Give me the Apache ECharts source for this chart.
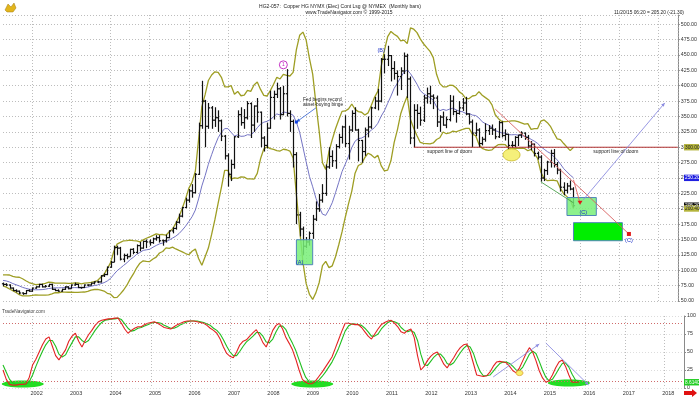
<!DOCTYPE html>
<html><head><meta charset="utf-8">
<script src="https://cdn.jsdelivr.net/npm/echarts@6/dist/echarts.min.js"></script>
<style>html,body{margin:0;padding:0;background:#fff}#c{width:700px;height:397px}</style>
</head><body><div id="c"></div>
<script>
// ---- categories: months from Apr 2001 to Jul 2018 ----
const firstYear = 2001, firstMonth = 4, monthCount = 208;
const months = [];
for (let k = 0; k < monthCount; k++) {
  const m = firstMonth - 1 + k;
  months.push((firstYear + Math.floor(m / 12)) + '-' + String(m % 12 + 1).padStart(2, '0'));
}
// ---- monthly OHLC, cents/lb (Apr 2001 .. Nov 2015) ----
const opens = [
 78,77,76,71,67,66,63,62,67,
 66,71,73,77,73,74,77,69,67,66,69,73,
 70,76,77,72,72,76,76,79,81,81,91,93,
 105,113,137,136,118,124,122,134,129,140,136,147,
 146,145,151,153,148,148,153,164,168,178,188,202,
 214,229,226,256,335,375,334,364,344,348,343,318,
 286,256,272,317,353,340,348,371,336,367,357,315,
 303,331,381,386,395,353,387,355,342,288,190,167,
 139,146,160,183,200,214,225,268,285,278,301,316,
 333,306,328,355,328,311,293,328,333,364,375,375,
 443,443,449,428,420,415,424,448,411,315,360,355,
 344,380,387,383,380,341,349,336,345,375,358,355,
 364,372,354,341,323,328,306,313,327,331,328,317,
 340,319,321,303,303,316,320,323,316,302,305,290,
 284,250,262,276,290,272,263,235,230,237,232];
const highs = [
 80,79,77,72,69,67,64,68,69,
 72,74,78,78,76,78,78,70,69,70,74,74,
 77,80,78,73,77,77,80,82,83,92,95,106,
 115,140,140,138,127,127,135,136,142,146,148,150,
 150,153,157,157,150,158,165,170,180,192,203,218,
 232,240,258,340,408,377,372,367,365,360,345,320,
 290,280,318,360,365,362,375,373,368,380,358,318,
 340,392,392,405,398,400,427,360,345,292,195,171,
 154,163,190,212,224,240,272,300,295,305,322,335,
 352,335,360,365,330,312,332,350,366,382,395,445,
 451,465,450,440,425,430,454,452,415,370,370,366,
 385,397,400,386,384,352,358,350,385,384,360,375,
 380,382,355,345,340,331,317,339,336,337,331,343,
 342,329,322,310,318,320,326,324,320,310,306,293,
 287,265,278,296,297,276,265,243,242,246,235];
const lows = [
 74,74,70,66,64,61,60,61,65,
 65,70,72,72,72,73,68,66,65,65,68,69,
 70,75,71,70,71,74,75,77,79,80,89,92,
 104,113,125,116,113,118,122,126,127,131,135,136,
 140,143,148,145,140,145,152,160,166,176,186,201,
 210,218,225,255,330,300,330,330,333,325,310,280,
 236,245,265,315,335,330,345,315,325,340,300,293,
 298,330,345,380,345,352,350,325,267,175,155,125,
 136,140,151,180,195,210,221,265,268,265,298,306,
 300,280,325,327,277,275,286,316,330,362,360,373,
 420,432,407,410,384,393,419,380,305,300,330,335,
 341,371,370,362,333,325,335,331,342,352,340,353,
 359,352,337,300,318,300,303,309,320,320,313,315,
 316,311,290,299,300,302,315,312,298,295,285,280,
 244,245,255,267,267,256,228,222,225,230,202];
const closes = [
 77,76,71,67,66,63,62,67,66,
 71,73,77,73,74,77,69,67,66,69,73,70,
 76,77,72,72,76,76,79,81,81,91,93,105,
 113,137,136,118,124,122,134,129,140,136,147,146,
 145,151,153,148,148,153,164,168,178,188,202,214,
 229,226,256,335,375,334,364,344,348,343,318,286,
 256,272,317,353,340,348,371,336,367,357,315,303,
 331,381,386,395,353,387,355,342,288,190,167,139,
 146,160,183,200,214,225,268,285,278,301,316,333,
 306,328,355,328,311,293,328,333,364,375,375,443,
 443,449,428,420,415,424,448,411,315,360,355,344,
 380,387,383,380,341,349,336,345,375,358,355,364,
 372,354,341,323,328,306,313,327,331,328,317,340,
 319,321,303,303,316,320,323,316,302,305,290,284,
 250,262,276,290,272,263,235,230,237,232,205];
// ---- overlay lines (Bollinger upper / lower, middle average) ----
const bandUpper = [
 92.5,92.6,92.3,89.9,88.9,88.6,86.2,82.9,80,
 78.2,76.6,77.1,77.6,78.8,80.7,80.1,79.1,79.2,78.9,79.2,78.8,
 78.5,79.6,79.3,77.9,79,79.6,80.2,81.7,83.2,88.5,93.4,102.7,
 112.4,130.8,142.6,145.2,147.9,148.3,149.1,148.2,147.6,146.3,149.3,152,
 154.1,156.6,159.2,157.8,158.1,157,162.7,167,176.2,187,200.7,216,
 233.2,243.2,261,312.8,366.1,385.5,408.5,417.5,422.7,421.8,413.7,398.1,
 398.1,400,386.2,390.7,383.7,384.7,392.4,390.9,401.2,405.9,394,384.3,
 383.3,392.1,402.5,413.8,411,418.3,416.7,415.8,421.7,458.6,482,487.2,
 474.2,444.5,418.9,370.4,325.7,274.8,264,293.1,312.4,330,344.6,358.3,
 359,362.4,370.3,361.8,357.9,356.9,352.5,355.9,368.3,381.5,391.2,430.9,
 457.1,480,488.3,483.8,480.3,472.8,474.2,468.4,494.2,491.9,486.3,476.2,
 468.2,461.9,455.9,445.7,418.6,403.4,398.3,398,400.8,400.6,396.7,390,
 386.1,379.1,379.1,383.3,384.3,390.4,384.6,380.7,376.9,368.9,352.8,346.4,
 341.8,341.6,342.1,342.8,342.7,341.6,339.6,337.6,338.3,329,330.3,330.4,
 342.5,344.4,340,333.4,323.1,313.6,312.3,306,300.1,294.5,300];
const bandLower = [
 74.5,72.6,69.5,66.9,63.9,60.4,58.2,58.3,58.4,
 59,59.8,59.5,59.4,59.6,59.9,61.7,63.7,63.4,64.3,64.4,64.2,
 64.3,64,63.9,64.3,64.6,65.8,67.8,68.7,68.8,67.7,66.2,62.5,
 61,55.6,55.8,61.6,67.9,75.7,85.5,94,104,111.5,115.3,114.4,
 114.1,118.2,121.4,128,130.5,136.4,135.5,137.6,134.6,132.2,129.9,127.2,
 125.2,130.8,134.6,119.2,108.1,121.9,136.1,158.3,182.3,209,234.9,262.5,
 262.5,248,250.2,249.5,251.7,251.5,248.4,248.5,248,257.5,281.2,297.1,
 300.9,297.7,296.5,294.6,293.8,296.7,295.9,293.8,282.5,223,166.8,113.2,
 78.2,60.9,52.5,63.6,80.1,107.6,114.4,104.3,107.2,122,141.4,162.3,
 186.2,208.4,228.7,257.8,270.3,272.9,283.3,290.3,287.5,282.7,286.8,270.1,
 261.5,262.8,277.9,307.8,328.7,354.4,369.8,382.8,345,330.7,318.7,307.8,
 306.2,305.9,305.5,306.9,312.6,315.4,324.7,322,323.2,326.2,325.1,327.2,
 328.9,330.7,330.7,321.3,318.7,304.8,298.2,295.9,294.9,295.7,300.8,304.4,
 304.6,304.4,298.9,297.6,298.3,298,298.4,298,294.3,296.6,289.5,282,
 259.3,249.2,245.6,246.2,246.3,245.2,233.1,224.4,219.7,214.9,200.4];
const movingAvg = [
 83.5,82.6,80.9,78.4,76.4,74.5,72.2,70.6,69.2,
 68.6,68.2,68.3,68.5,69.2,70.3,70.9,71.4,71.3,71.6,71.8,71.5,
 71.4,71.8,71.6,71.1,71.8,72.7,74,75.2,76,78.1,79.8,82.6,
 86.7,93.2,99.2,103.4,107.9,112,117.3,121.1,125.8,128.9,132.3,133.2,
 134.1,137.4,140.3,142.9,144.3,146.7,149.1,152.3,155.4,159.6,165.3,171.6,
 179.2,187,197.8,216,237.1,253.7,272.3,287.9,302.5,315.4,324.3,330.3,
 330.3,324,318.2,320.1,317.7,318.1,320.4,319.7,324.6,331.7,337.6,340.7,
 342.1,344.9,349.5,354.2,352.4,357.5,356.3,354.8,352.1,340.8,324.4,300.2,
 276.2,252.7,235.7,217,202.9,191.2,189.2,198.7,209.8,226,243,260.3,
 272.6,285.4,299.5,309.8,314.1,314.9,317.9,323.1,327.9,332.1,339,350.5,
 359.3,371.4,383.1,395.8,404.5,413.6,422,425.6,419.6,411.3,402.5,392,
 387.2,383.9,380.7,376.3,365.6,359.4,361.5,360,362,363.4,360.9,358.6,
 357.5,354.9,354.9,352.3,351.5,347.6,341.4,338.3,335.9,332.3,326.8,325.4,
 323.2,323,320.5,320.2,320.5,319.8,319,317.8,316.3,312.8,309.9,306.2,
 300.9,296.8,292.8,289.8,284.7,279.4,272.7,265.2,259.9,254.7,250.2];
// ---- stochastic %K (red) and %D (green) ----
const stochK = [
 25,12,5,4,4,5,5,6,15,
 32,40,50,60,68,71,58,45,39,46,53,65,
 72,76,65,57,66,74,80,87,92,94,95,96,
 96,97,97,90,82,76,80,83,85,85,88,90,
 91,92,90,87,84,83,82,85,88,90,92,93,
 93,93,92,91,90,87,83,80,76,68,57,48,
 44,42,50,60,65,67,72,77,81,73,63,57,
 68,80,87,90,82,70,62,53,40,25,12,8,
 6,6,10,16,22,29,36,43,55,67,79,90,
 90,89,88,88,84,78,72,68,75,82,88,91,
 93,94,90,85,78,76,80,82,70,45,25,30,
 38,44,48,50,42,33,28,35,42,50,56,60,
 61,50,34,18,17,16,17,22,30,36,37,36,
 35,30,24,21,28,38,48,56,50,38,24,14,
 8,10,18,28,36,39,30,18,8,8,8];
const stochD = [
 32,22,12,7,5,5,5,5,9,
 18,30,41,51,60,66,66,58,47,43,46,55,
 63,71,71,66,63,66,73,80,86,91,94,95,
 96,96,97,95,89,83,79,80,83,84,86,88,
 90,91,91,90,87,85,83,83,85,88,90,92,
 93,93,93,92,91,89,87,83,80,75,67,58,
 50,45,45,51,58,64,68,72,77,77,72,64,
 63,68,78,86,86,81,71,62,52,39,26,15,
 9,7,7,11,16,22,29,36,45,55,67,79,
 86,89,89,88,87,83,78,72,72,75,82,87,
 91,93,92,90,84,80,78,80,77,66,47,33,
 31,37,43,47,47,42,34,32,35,42,49,55,
 59,57,48,34,23,17,17,18,23,29,34,36,
 36,34,30,25,24,29,38,47,51,48,37,25,
 15,10,12,19,27,34,35,29,19,11,8];
const priceTicks = [500,475,450,425,400,375,350,325,300,275,250,225,200,175,150,125,100,75,50];
const stochTicks = [100,75,50,25,0];

const ohlc = closes.map((c, i) => [i, opens[i], highs[i], lows[i], c]);
const FONT = 'Liberation Sans, Arial, sans-serif';
const chart = echarts.init(document.getElementById('c'), null, {renderer: 'canvas'});
const janOnly = (idx, val) => String(val).endsWith('-01');
const gridDot = {color: '#bdbdbd', type: [1, 2], width: 1};

chart.setOption({
  animation: false,
  backgroundColor: '#ffffff',
  grid: [
    {left: 3, right: 16, top: 15, height: 286},
    {left: 3, right: 16, top: 316, height: 72}
  ],
  xAxis: [
    {gridIndex: 0, type: 'category', data: months, boundaryGap: false,
     axisLine: {show: false}, axisTick: {show: false}, axisLabel: {show: false},
     splitLine: {show: true, interval: janOnly, lineStyle: gridDot}},
    {gridIndex: 1, type: 'category', data: months, boundaryGap: false,
     axisLine: {show: false}, axisTick: {show: false},
     axisLabel: {show: true, interval: janOnly, formatter: v => v.slice(0, 4), fontSize: 5.5,
                 color: '#333', fontFamily: FONT, margin: 2, padding: [0, 0, 0, 8]},
     splitLine: {show: true, interval: janOnly, lineStyle: gridDot}}
  ],
  yAxis: [
    {gridIndex: 0, type: 'value', position: 'right', min: 50, max: 515, interval: 25,
     axisLine: {show: true, lineStyle: {color: '#8a8a8a'}},
     axisTick: {show: true, length: 2, lineStyle: {color: '#8a8a8a'}},
     minorTick: {show: true, splitNumber: 5, length: 1.2, lineStyle: {color: '#aaa'}},
     axisLabel: {fontSize: 5.3, color: '#333', fontFamily: FONT, margin: 3,
                 formatter: v => priceTicks.includes(v) ? v.toFixed(2) : ''},
     splitLine: {show: true, lineStyle: gridDot}},
    {gridIndex: 1, type: 'value', position: 'right', min: 0, max: 100, interval: 25,
     axisLine: {show: true, lineStyle: {color: '#8a8a8a'}},
     axisTick: {show: true, length: 2, lineStyle: {color: '#8a8a8a'}},
     axisLabel: {fontSize: 5.3, color: '#333', fontFamily: FONT, margin: 3,
                 formatter: v => stochTicks.includes(v) ? String(v) : ''},
     splitLine: {show: true, lineStyle: {color: '#dcdcdc', type: [1, 2]}}}
  ],
  series: [
    {type: 'line', xAxisIndex: 0, yAxisIndex: 0, data: bandUpper, symbol: 'none',
     lineStyle: {color: '#9e9e24', width: 1.3}, z: 3},
    {type: 'line', xAxisIndex: 0, yAxisIndex: 0, data: bandLower, symbol: 'none',
     lineStyle: {color: '#9e9e24', width: 1.3}, z: 3},
    {type: 'line', xAxisIndex: 0, yAxisIndex: 0, data: movingAvg, symbol: 'none',
     lineStyle: {color: '#7474c4', width: 1}, z: 3},
    {type: 'custom', xAxisIndex: 0, yAxisIndex: 0, data: ohlc, z: 4,
     encode: {x: 0, y: [1, 2, 3, 4]},
     renderItem: function (params, api) {
       const i = api.value(0);
       const ph = api.coord([i, api.value(2)]);
       const pl = api.coord([i, api.value(3)]);
       const po = api.coord([i, api.value(1)]);
       const pc = api.coord([i, api.value(4)]);
       const x = Math.round(ph[0]) + 0.5;
       const st = {stroke: '#111', lineWidth: 1.2};
       return {type: 'group', children: [
         {type: 'line', shape: {x1: x, y1: ph[1], x2: x, y2: pl[1]}, style: st},
         {type: 'line', shape: {x1: x - 1.6, y1: po[1], x2: x, y2: po[1]}, style: st},
         {type: 'line', shape: {x1: x, y1: pc[1], x2: x + 1.6, y2: pc[1]}, style: st}
       ]};
     }},
    {type: 'line', xAxisIndex: 1, yAxisIndex: 1, data: stochD, symbol: 'none',
     lineStyle: {color: '#1fbf1f', width: 1.1}, z: 3},
    {type: 'line', xAxisIndex: 1, yAxisIndex: 1, data: stochK, symbol: 'none',
     lineStyle: {color: '#e32222', width: 1.1}, z: 4,
     markLine: {silent: true, symbol: 'none', label: {show: false},
       lineStyle: {color: '#cf6a6a', type: [1, 2], width: 1},
       data: [{yAxis: 90}, {yAxis: 10}]}}
  ]
});

// ---- annotations, anchored in data space (month index, value) ----
const notes = {
  circle1: [86, 434], labelB: [116, 458],
  fedText: [91.8, 378], fedArrow: [[95.7, 364], [89.7, 341]],
  boxA: [[89.7, 149.6], [95.1, 109]], textA: [91.3, 112],
  support: [[126, 300], [207, 300]],
  supportTxt1: [137.4, 292.5], supportTxt2: [188, 292.5],
  yellowEll: [155.6, 287.6],
  redDiag: [[151, 362], [192, 159]],
  boxC1: [[172.9, 218.2], [182.1, 189]], textC1: [177.5, 194],
  boxC2: [[174.8, 177.4], [190, 148]], textC2: [191.5, 149], redSq: [192, 159],
  blueArrow: [[178.4, 214.5], [203.3, 372]],
  greenLine: [[165.3, 243.7], [175.4, 209.6]],
  pinkLine: [[174.5, 247], [177.2, 209.6]],
  lowEll: [[6.1, 5.6], [93.6, 5.6], [171.7, 6.9]],
  lowYellow: [156.5, 20.8],
  lowArrows: [[[148.9, 15.3], [163.2, 61.1]], [[164.7, 62.5], [178.1, 4.2]]]
};
const P = (d) => chart.convertToPixel({gridIndex: 0}, d);
const Q = (d) => chart.convertToPixel({gridIndex: 1}, d);
const g = [];
const txt = (x, y, s, o) => g.push(Object.assign({type: 'text', x: x, y: y, z: 20,
  style: Object.assign({text: s, fontSize: 5, fontFamily: FONT, fill: '#222', align: 'left', verticalAlign: 'middle'}, o || {})}));
function arrowLine(a, b, color, w) {
  g.push({type: 'line', z: 19, shape: {x1: a[0], y1: a[1], x2: b[0], y2: b[1]}, style: {stroke: color, lineWidth: w || 1}});
  const ang = Math.atan2(b[1] - a[1], b[0] - a[0]);
  const L = 4, s = 0.45;
  g.push({type: 'polygon', z: 19, shape: {points: [b,
    [b[0] - L * Math.cos(ang - s), b[1] - L * Math.sin(ang - s)],
    [b[0] - L * Math.cos(ang + s), b[1] - L * Math.sin(ang + s)]]}, style: {fill: color}});
}
function box(pair, fill, stroke) {
  const a = P(pair[0]), b = P(pair[1]);
  g.push({type: 'rect', z: 6, shape: {x: Math.min(a[0], b[0]), y: Math.min(a[1], b[1]),
    width: Math.abs(b[0] - a[0]), height: Math.abs(b[1] - a[1])},
    style: {fill: fill, stroke: stroke, lineWidth: 1}});
}
box(notes.boxA, 'rgba(120,238,120,0.85)', '#4f86b8');
box(notes.boxC1, 'rgba(120,238,120,0.85)', '#4f86b8');
box(notes.boxC2, '#00ee00', '#4f86b8');
(function () { const a = P(notes.support[0]), b = P(notes.support[1]);
  g.push({type: 'line', z: 7, shape: {x1: a[0], y1: a[1], x2: b[0], y2: b[1]}, style: {stroke: '#b03030', lineWidth: 1}}); })();
(function () { let p = P(notes.supportTxt1); txt(p[0], p[1], 'support line of doom', {align: 'center'});
  p = P(notes.supportTxt2); txt(p[0], p[1], 'support line of doom', {align: 'center'}); })();
(function () { const p = P(notes.yellowEll);
  g.push({type: 'ellipse', z: 8, shape: {cx: p[0], cy: p[1], rx: 8.5, ry: 6}, style: {fill: '#f5f07a', stroke: '#c8b820', lineWidth: 0.8}}); })();
(function () {
  let a = P(notes.redDiag[0]), b = P(notes.redDiag[1]);
  g.push({type: 'line', z: 9, shape: {x1: a[0], y1: a[1], x2: b[0], y2: b[1]}, style: {stroke: '#d86060', lineWidth: 0.9}});
  const s = P(notes.redSq);
  g.push({type: 'rect', z: 21, shape: {x: s[0] - 2, y: s[1] - 2, width: 4, height: 4}, style: {fill: '#e01818'}});
  a = P(notes.greenLine[0]); b = P(notes.greenLine[1]);
  g.push({type: 'line', z: 9, shape: {x1: a[0], y1: a[1], x2: b[0], y2: b[1]}, style: {stroke: '#4aa04a', lineWidth: 0.9}});
  a = P(notes.pinkLine[0]); b = P(notes.pinkLine[1]);
  g.push({type: 'line', z: 9, shape: {x1: a[0], y1: a[1], x2: b[0], y2: b[1]}, style: {stroke: '#e06060', lineWidth: 0.9}});
  g.push({type: 'polygon', z: 21, shape: {points: [[b[0] - 2.5, b[1] - 2], [b[0] + 2.5, b[1] - 2], [b[0], b[1] + 2]]}, style: {fill: '#e01818'}});
  a = P(notes.blueArrow[0]); b = P(notes.blueArrow[1]);
  arrowLine(a, b, '#8c8ce0', 0.9);
  a = P(notes.fedArrow[0]); b = P(notes.fedArrow[1]);
  arrowLine(a, b, '#3060d0', 0.8);
  g.push({type: 'rect', z: 21, shape: {x: b[0] - 1.5, y: b[1] - 1.5, width: 3, height: 3}, style: {fill: '#1040e0'}});
})();
(function () {
  let p = P(notes.circle1);
  g.push({type: 'circle', z: 20, shape: {cx: p[0], cy: p[1], r: 4}, style: {fill: '#fff', stroke: '#c020c0', lineWidth: 0.9}});
  txt(p[0], p[1], '1', {align: 'center', fill: '#c020c0'});
  p = P(notes.labelB); txt(p[0], p[1], '(B)', {align: 'center', fill: '#1a2fc8', fontSize: 5.5});
  p = P(notes.textA); txt(p[0], p[1], '(A)', {align: 'center', fill: '#1a2fc8', fontSize: 5.5});
  p = P(notes.textC1); txt(p[0], p[1], '(C)', {align: 'center', fill: '#1a2fc8', fontSize: 5.5});
  p = P(notes.textC2); txt(p[0], p[1], '(C)', {align: 'center', fill: '#1a2fc8', fontSize: 5.5});
  p = P(notes.fedText);
  txt(p[0], p[1], 'Fed begins record', {fontSize: 4.8});
  txt(p[0], p[1] + 5, 'asset-buying binge', {fontSize: 4.8});
})();
notes.lowEll.forEach(d => { const p = Q(d);
  g.push({type: 'ellipse', z: 2, shape: {cx: p[0], cy: p[1], rx: 21, ry: 3.5}, style: {fill: '#22dd22'}}); });
(function () { const p = Q(notes.lowYellow);
  g.push({type: 'ellipse', z: 12, shape: {cx: p[0], cy: p[1], rx: 3.5, ry: 2.6}, style: {fill: '#f7ef6a', stroke: '#e0a030', lineWidth: 0.8}}); })();
notes.lowArrows.forEach(pr => arrowLine(Q(pr[0]), Q(pr[1]), '#8c8ce0', 0.9));
function flag(v, s, bg, fg, idx) {
  const y = idx === 1 ? Q([0, v])[1] : P([0, v])[1];
  g.push({type: 'rect', z: 25, shape: {x: 684, y: y - 3.2, width: 15, height: 6.4}, style: {fill: bg}});
  g.push({type: 'text', z: 26, x: 685, y: y, style: {text: s, fontSize: 4.8, fontFamily: FONT, fill: fg, verticalAlign: 'middle'}});
}
flag(bandUpper[bandUpper.length - 1], '300.00', '#b4b43c', '#222', 0);
flag(movingAvg[movingAvg.length - 1], '250.20', '#2020e0', '#fff', 0);
flag(closes[closes.length - 1], '205.20', '#111', '#fff', 0);
flag(bandLower[bandLower.length - 1], '200.40', '#b4b43c', '#222', 0);
flag(stochD[stochD.length - 1], '8.6140', '#22cc22', '#fff', 1);
txt(340, 7, 'HG2-057:  Copper HG NYMX (Elec) Cont Lsg @ NYMEX  (Monthly bars)', {align: 'center', fontSize: 5});
txt(349, 13, 'www.TradeNavigator.com © 1999-2015', {align: 'center', fontSize: 5});
txt(649, 13, '11/20/15 06:20 = 205.20 (-21.30)', {align: 'center', fontSize: 4.8});
txt(2, 312, 'TradeNavigator.com', {fontSize: 4.8, fill: '#444'});
g.push({type: 'polygon', z: 30, shape: {points: [[5, 10], [8, 4], [11, 7], [14, 3], [16, 8], [13, 12], [7, 12]]}, style: {fill: '#e2b51c', stroke: '#a07a10', lineWidth: 0.5}});
g.push({type: 'polygon', z: 30, shape: {points: [[684, 391], [692, 391], [692, 389], [697, 393], [692, 397], [692, 395], [684, 395]]}, style: {fill: '#e01010'}});
chart.setOption({graphic: g});
</script></body></html>
